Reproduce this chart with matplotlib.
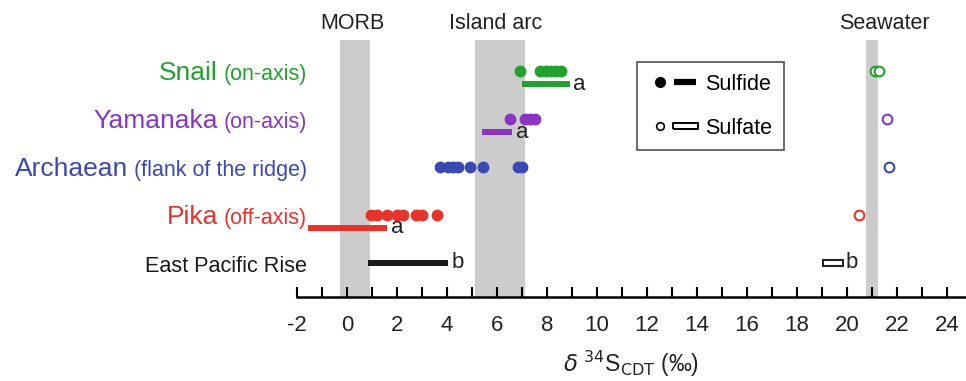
import matplotlib
matplotlib.use("Agg")
import matplotlib.pyplot as plt
from matplotlib.lines import Line2D
from matplotlib.legend_handler import HandlerTuple

plt.rcParams['font.family'] = ['Liberation Sans', 'DejaVu Sans']

# ---------------- data ----------------
sites = ["East Pacific Rise", "Pika", "Archaean", "Yamanaka", "Snail"]
site_notes = ["", "(off-axis)", "(flank of the ridge)", "(on-axis)", "(on-axis)"]
site_colors = ["#1a1a1a", "#e8322c", "#3a48b4", "#8a35c2", "#23a02d"]

# sulfide point measurements (delta34S, permil)
sulfide_points = {
    "Snail": [6.9, 7.7, 7.95, 8.15, 8.35, 8.55],
    "Yamanaka": [6.5, 7.1, 7.3, 7.5],
    "Archaean": [3.7, 4.05, 4.25, 4.45, 4.9, 5.45, 6.85, 7.0],
    "Pika": [0.95, 1.2, 1.6, 2.0, 2.25, 2.75, 3.0, 3.6],
    "East Pacific Rise": [],
}
# sulfate point measurements
sulfate_points = {
    "Snail": [21.1, 21.3],
    "Yamanaka": [21.6],
    "Archaean": [21.7],
    "Pika": [20.5],
    "East Pacific Rise": [],
}
# sulfide ranges (min, max, letter)
sulfide_ranges = {
    "Snail": (7.0, 8.9, "a"),
    "Yamanaka": (5.4, 6.6, "a"),
    "Pika": (-1.55, 1.6, "a"),
    "East Pacific Rise": (0.85, 4.05, "b"),
}
# sulfate ranges
sulfate_ranges = {
    "East Pacific Rise": (19.05, 19.85, "b"),
}
# reference bands
bands = ["MORB", "Island arc", "Seawater"]
band_lo = [-0.3, 5.1, 20.75]
band_hi = [0.9, 7.1, 21.25]
band_label_x = [0.2, 5.95, 21.5]

xticks_major = list(range(-2, 25, 2))
xticks_minor = list(range(-1, 25, 2))

# ---------------- figure ----------------
fig = plt.figure(figsize=(9.66, 3.81), dpi=100)
ax = fig.add_axes([297 / 966, 84 / 381, 669 / 966, 257 / 381])
ax.set_xlim(-2, 24.76)
ax.set_ylim(-0.71, 4.65)

for lo, hi in zip(band_lo, band_hi):
    ax.axvspan(lo, hi, color="#cccccc", lw=0, zorder=0)

bar_off = -0.27
bar_h = 0.125
for i, (site, col) in enumerate(zip(sites, site_colors)):
    y = i
    pts = sulfide_points[site]
    if pts:
        ax.plot(pts, [y] * len(pts), "o", ms=7.5, color=col, mec=col, zorder=3)
    spts = sulfate_points[site]
    if spts:
        ax.plot(spts, [y] * len(spts), "o", ms=7, mfc="white", mec=col, mew=1.5, zorder=3)
    yb = y + (bar_off if site != "East Pacific Rise" else 0)
    if site in sulfide_ranges:
        lo, hi, let = sulfide_ranges[site]
        ax.barh(yb, hi - lo, left=lo, height=bar_h, color=col, lw=0, zorder=3)
        ax.text(hi + 0.15, yb, let, fontsize=16, va="center", ha="left", color="#222222")
    if site in sulfate_ranges:
        lo, hi, let = sulfate_ranges[site]
        ax.barh(yb, hi - lo, left=lo, height=bar_h, facecolor="white",
                edgecolor="#222222", lw=1.5, zorder=3)
        ax.text(hi + 0.1, yb, let, fontsize=16, va="center", ha="left", color="#222222")

# band labels
for lab, bx in zip(bands, band_label_x):
    ax.text(bx, 1.065, lab, transform=ax.get_xaxis_transform(), ha="center",
            va="center", fontsize=15.5, color="#222222")

# axes styling
for s in ["top", "left", "right"]:
    ax.spines[s].set_visible(False)
ax.spines["bottom"].set_linewidth(1.8)
ax.set_yticks([])
ax.set_xticks(xticks_major)
ax.set_xticks(xticks_minor, minor=True)
ax.set_xticklabels([str(t) for t in xticks_major], fontsize=16, color="#222222")
ax.tick_params(axis="x", which="both", direction="in", length=7.5, width=1.5, pad=13)
ax.set_xlabel(r"$\delta$ $^{34}$S$_{\rm CDT}$ (‰)", fontsize=16.5, color="#222222", labelpad=9)

# site labels (name large + note small)
fig.canvas.draw()
renderer = fig.canvas.get_renderer()
label_x = -1.6
for i, (site, note, col) in enumerate(zip(sites, site_notes, site_colors)):
    y = i - 0.18
    if note:
        t_small = ax.text(label_x, y, note, fontsize=15.5, color=col, ha="right",
                          va="baseline", clip_on=False)
        bb = t_small.get_window_extent(renderer)
        xl = ax.transData.inverted().transform((bb.x0 - 6, 0))[0]
        ax.text(xl, y, site, fontsize=19, color=col, ha="right", va="baseline", clip_on=False)
    else:
        ax.text(label_x, y, site, fontsize=15.6, color=col, ha="right", va="baseline", clip_on=False)

# legend
rect_marker = [(-2.0, -0.45), (2.0, -0.45), (2.0, 0.45), (-2.0, 0.45), (-2.0, -0.45)]
h_sulfide = (Line2D([], [], ls="none", marker="o", ms=7, color="black"),
             Line2D([], [], color="black", lw=4.5, solid_capstyle="butt"))
h_sulfate = (Line2D([], [], ls="none", marker="o", ms=5.5, mfc="white", mec="black", mew=1.2),
             Line2D([], [], ls="none", marker=rect_marker, ms=18, mfc="white", mec="black", mew=1.4))
leg = ax.legend([h_sulfide, h_sulfate], ["Sulfide", "Sulfate"],
                handler_map={tuple: HandlerTuple(ndivide=None, pad=0.15)},
                loc="upper left", bbox_to_anchor=(0.508, 0.914), borderaxespad=0,
                fontsize=15.5, frameon=True, fancybox=False, edgecolor="#333333",
                handlelength=2.2, handletextpad=0.4, labelspacing=1.05,
                borderpad=0.55)
leg.get_frame().set_linewidth(1.3)

fig.savefig("out.png", dpi=100)
